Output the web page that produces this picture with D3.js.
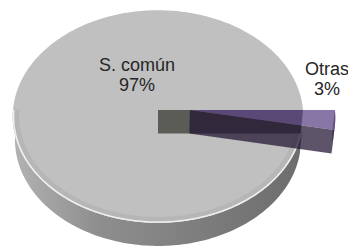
<!DOCTYPE html>
<html>
<head>
<meta charset="utf-8">
<script src="https://cdn.jsdelivr.net/npm/d3@7"></script>
<style>
  html, body { margin: 0; padding: 0; background: #fff; }
  svg { display: block; }
</style>
</head>
<body>
<div id="chart"></div>
<script>
// Datos
const categorias = ["S. común", "Otras"];
const valores = [97, 3];
const porcentajes = ["97%", "3%"];

// Dimensiones y perspectiva
const width = 348, height = 248;
const cx = 158, cy = 110;
const R = 145, H = 35;
const sinT = 0.73, cosT = 0.683, F = 1620;
const explode = 32;

const total = d3.sum(valores);
const arranque = Math.PI / 2 + 2 * Math.PI * valores[1] / total;

const pie = d3.pie()
    .sort(null)
    .startAngle(arranque)
    .endAngle(arranque + 2 * Math.PI);

const arcs = pie(valores);
const gris = arcs[0];
const otras = arcs[1];

// proyección 3D -> pantalla
function proj(theta, r, y, ox = 0) {
    const X = r * Math.sin(theta) + ox;
    const Z = -r * Math.cos(theta);
    const vy = Z * sinT - y * cosT;
    const d = Z * cosT + y * sinT;
    const s = F / (F - d);
    return [cx + X * s, cy + vy * s];
}

function arcPts(a0, a1, r, y, ox = 0) {
    const n = Math.max(2, Math.ceil(Math.abs(a1 - a0) / 0.02));
    return d3.range(n + 1).map(i => proj(a0 + (a1 - a0) * i / n, r, y, ox));
}

const line = d3.line();
const poly = pts => line(pts) + "Z";

const svg = d3.select("#chart")
    .append("svg")
    .attr("width", width)
    .attr("height", height)
    .style("font-family", "'Liberation Sans', Arial, sans-serif");

const defs = svg.append("defs");
const grad = defs.append("linearGradient")
    .attr("id", "lado")
    .attr("gradientUnits", "userSpaceOnUse")
    .attr("x1", 10).attr("y1", 0)
    .attr("x2", 305).attr("y2", 0);
grad.append("stop").attr("offset", 0).attr("stop-color", "#b4b4b4");
grad.append("stop").attr("offset", 0.3).attr("stop-color", "#8e8e8e");
grad.append("stop").attr("offset", 1).attr("stop-color", "#6c6c6c");

// Lateral de la porción gris (parte frontal)
const a0 = Math.max(gris.startAngle, Math.PI / 2);
const a1 = 3 * Math.PI / 2;
svg.append("path")
    .attr("d", poly(arcPts(a0, a1, R, 0).concat(arcPts(a1, a0, R, -H))))
    .attr("fill", "url(#lado)");

// Cara superior gris
svg.append("path")
    .attr("d", poly([proj(0, 0, 0)].concat(arcPts(gris.startAngle, gris.endAngle, R, 0))))
    .attr("fill", "#c0c0c0");

// Bisel del borde
svg.append("path")
    .attr("d", line(arcPts(a0, a1, R - 4, 0)))
    .attr("fill", "none")
    .attr("stroke", "rgba(0,0,0,0.05)")
    .attr("stroke-width", 5);

svg.append("path")
    .attr("d", line(arcPts(a0, a1, R - 0.8, 0)))
    .attr("fill", "none")
    .attr("stroke", "rgba(255,255,255,0.75)")
    .attr("stroke-width", 1.5);

// Cara de corte de la porción gris
const ec = gris.endAngle;
svg.append("path")
    .attr("d", poly([proj(ec, 0, 0), proj(ec, R, 0), proj(ec, R, -H), proj(ec, 0, -H)]))
    .attr("fill", "#5c5c57");

// Porción "Otras" separada
const mid = (otras.startAngle + otras.endAngle) / 2;
const ox = explode * Math.sin(mid);
const s0 = otras.startAngle, s1 = otras.endAngle;

const grupo = svg.append("g");

grupo.append("path")
    .attr("d", poly([proj(s1, 0, 0, ox), proj(s1, R, 0, ox), proj(s1, R, -H, ox), proj(s1, 0, -H, ox)]))
    .attr("fill", "rgb(33,20,50)")
    .attr("fill-opacity", 0.73);

grupo.append("path")
    .attr("d", poly(arcPts(s0, s1, R, 0, ox).concat(arcPts(s1, s0, R, -H, ox))))
    .attr("fill", "rgb(60,45,85)")
    .attr("fill-opacity", 0.73);

grupo.append("path")
    .attr("d", poly([proj(s0, 0, 0, ox)].concat(arcPts(s0, s1, R, 0, ox))))
    .attr("fill", "rgb(90,65,132)")
    .attr("fill-opacity", 0.72);

// Etiquetas
const etiquetas = [
    { x: 137, y: 71 },
    { x: 327, y: 75 }
];

etiquetas.forEach((p, i) => {
    const t = svg.append("text")
        .attr("x", p.x)
        .attr("y", p.y)
        .attr("text-anchor", "middle")
        .style("font-size", "18px")
        .style("fill", "#262626");
    t.append("tspan").attr("x", p.x).text(categorias[i]);
    t.append("tspan").attr("x", p.x).attr("dy", 20).text(porcentajes[i]);
});
</script>
</body>
</html>
